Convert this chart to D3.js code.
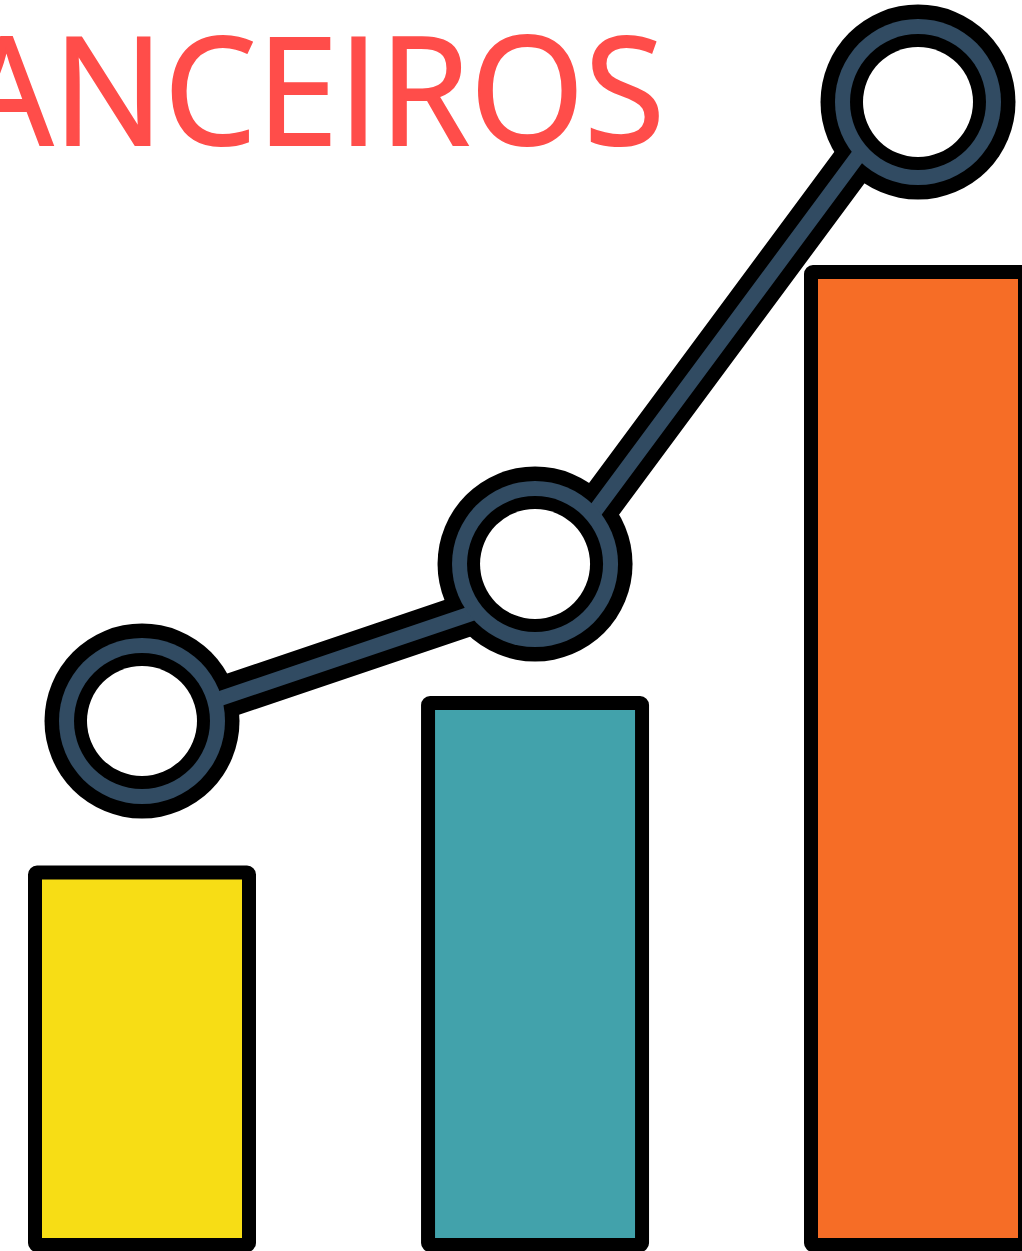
<!DOCTYPE html>
<html>
<head>
<meta charset="utf-8">
<script src="https://cdn.jsdelivr.net/npm/d3@7"></script>
<style>
html, body { margin: 0; padding: 0; background: #fff; overflow: hidden; }
svg { display: block; }
</style>
</head>
<body>
<div id="chart"></div>
<script>
var width = 1022;
var height = 1251;

var categories = ["a", "b", "c"];
var steps = [0, 1.013, 2];             // bars are not quite evenly spaced
var barValues = [372.5, 542, 973];
var ringValues = [524, 681, 1143];
var lineValues = [520, 653, 1170];     // the line misses the ring centres a bit
var barColors = ["#f7dd15", "#42a2ab", "#f66d26"];
var titleText = "ANCEIROS";

var blue = "#314b62";
var outline = 14;

var x = d3.scaleLinear()
	.domain([0, 2])
	.range([142, 918]);

var y = d3.scaleLinear()
	.domain([0, 1245])
	.range([1245, 0]);

const svg = d3.select("#chart")
	.append("svg")
	.attr("width", width)
	.attr("height", height);

// title, cut by the left edge like the original
svg.append("text")
	.attr("x", -40)
	.attr("y", 145)
	.attr("font-family", "Open Sans, sans-serif")
	.attr("font-size", 151)
	.attr("textLength", 705)
	.attr("lengthAdjust", "spacingAndGlyphs")
	.attr("fill", "#ff4d4a")
	.attr("stroke", "#ff4d4a")
	.attr("stroke-width", 2)
	.text(titleText);

// bars
const barWidth = 214;

svg.selectAll("rect.bar")
	.data(categories)
	.enter()
	.append("rect")
	.attr("class", "bar")
	.attr("x", (d, i) => x(steps[i]) - barWidth / 2)
	.attr("y", (d, i) => y(barValues[i]))
	.attr("width", barWidth)
	.attr("height", (d, i) => y(0) - y(barValues[i]))
	.attr("rx", 2)
	.style("fill", (d, i) => barColors[i])
	.style("stroke", "#000")
	.style("stroke-width", outline);

const line = d3.line()
	.x((d, i) => x(steps[i]))
	.y((d, i) => y(d));

function drawLine(color, w) {
	svg.append("path")
		.attr("d", line(lineValues))
		.style("fill", "none")
		.style("stroke", color)
		.style("stroke-width", w);
}

function drawRings(r, color) {
	svg.append("g")
		.selectAll("circle")
		.data(ringValues)
		.enter()
		.append("circle")
		.attr("cx", (d, i) => x(steps[i]))
		.attr("cy", (d) => y(d))
		.attr("r", r)
		.style("fill", color);
}

// black goes first so the blue of line and rings runs together
drawLine("#000", 43);
drawRings(97.5, "#000");
drawLine(blue, 15);
drawRings(83, blue);
drawRings(68, "#000");
drawRings(55, "#fff");
</script>
</body>
</html>
